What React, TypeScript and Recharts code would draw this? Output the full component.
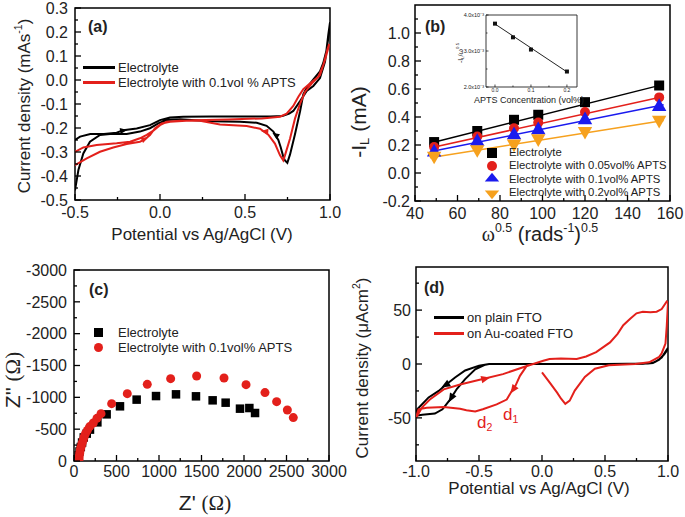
import React from "react";
import { ComposedChart, Line, Scatter, XAxis, YAxis, ReferenceArea } from "recharts";

const FONT = "'Liberation Sans', Arial, Helvetica, sans-serif";
const SERIF = "'Liberation Serif', 'Times New Roman', serif";
const RED = "#e3201b";
const BLUE = "#1a1aee";
const ORANGE = "#f6a11e";

// (a) cyclic voltammetry, potential (V) vs current density
const cvPlain: [number, number][] = [
  [-0.5, -0.25], [-0.47, -0.236], [-0.41, -0.225], [-0.33, -0.225], [-0.255, -0.22], [-0.216, -0.209],
  [-0.137, -0.202], [-0.059, -0.188], [0.0, -0.167], [0.059, -0.156], [0.137, -0.153], [0.3, -0.152],
  [0.5, -0.152], [0.65, -0.152], [0.72, -0.15], [0.76, -0.14], [0.784, -0.129], [0.824, -0.088],
  [0.863, -0.046], [0.902, -0.025], [0.941, 0.008], [0.971, 0.077], [0.99, 0.189], [1.0, 0.24],
  [0.995, 0.2], [0.98, 0.125], [0.96, 0.07], [0.941, 0.036], [0.9, 0.0], [0.863, -0.032], [0.843, -0.06],
  [0.824, -0.13], [0.794, -0.226], [0.765, -0.31], [0.749, -0.345], [0.735, -0.335], [0.725, -0.319],
  [0.71, -0.28], [0.696, -0.25], [0.667, -0.215], [0.627, -0.191], [0.569, -0.178], [0.471, -0.174],
  [0.3, -0.172], [0.118, -0.164], [0.039, -0.167], [-0.01, -0.181], [-0.059, -0.201], [-0.118, -0.215],
  [-0.196, -0.225], [-0.294, -0.225], [-0.353, -0.229], [-0.412, -0.257], [-0.451, -0.306],
  [-0.48, -0.375], [-0.5, -0.46],
];
const cvApts: [number, number][] = [
  [-0.5, -0.355], [-0.431, -0.327], [-0.353, -0.299], [-0.275, -0.281], [-0.196, -0.267], [-0.118, -0.257],
  [-0.088, -0.247], [-0.059, -0.229], [-0.029, -0.201], [0.01, -0.181], [0.059, -0.174], [0.2, -0.168],
  [0.4, -0.165], [0.6, -0.16], [0.706, -0.153], [0.745, -0.14], [0.784, -0.108], [0.814, -0.07],
  [0.843, -0.038], [0.882, -0.015], [0.931, 0.013], [0.961, 0.063], [0.984, 0.126], [0.995, 0.15],
  [0.99, 0.133], [0.971, 0.085], [0.941, 0.02], [0.892, -0.015], [0.853, -0.05], [0.824, -0.098],
  [0.794, -0.161], [0.765, -0.244], [0.735, -0.314], [0.725, -0.335], [0.706, -0.314], [0.676, -0.265],
  [0.637, -0.228], [0.588, -0.203], [0.51, -0.192], [0.353, -0.185], [0.235, -0.17], [0.118, -0.17],
  [0.039, -0.174], [0.0, -0.188], [-0.039, -0.211], [-0.078, -0.229], [-0.118, -0.243], [-0.176, -0.257],
  [-0.255, -0.264], [-0.373, -0.271], [-0.451, -0.281], [-0.5, -0.299],
];
// arrow heads: x, y, direction (deg)
const cvArrowsPlain: [number, number, number][] = [[-0.216, -0.211, -8], [0.68, -0.229, 215]];
const cvArrowsApts: [number, number, number][] = [[-0.09, -0.246, -25], [0.618, -0.214, 185]];

// (b) Levich plot
const omegaHalf = [49, 69.3, 86.6, 98, 120, 154.9];
const ilPlain = [0.221, 0.3, 0.38, 0.416, 0.506, 0.625];
const il005 = [0.185, 0.26, 0.32, 0.36, 0.435, 0.54];
const il01 = [0.157, 0.233, 0.28, 0.316, 0.387, 0.482];
const il02 = [0.114, 0.16, 0.2, 0.238, 0.29, 0.37];
const fitPlain: [number, number][] = [[47, 0.213], [157, 0.633]];
const fit005: [number, number][] = [[47, 0.178], [157, 0.547]];
const fit01: [number, number][] = [[47, 0.151], [157, 0.488]];
const fit02: [number, number][] = [[47, 0.109], [157, 0.375]];
// inset: slope vs APTS concentration
const insetConc = [0, 0.05, 0.1, 0.2];
const insetSlope = [3.76, 3.38, 3.04, 2.43];
const insetFit: [number, number][] = [[0, 3.75], [0.2, 2.42]];

// (c) Nyquist
const eisPlain: [number, number][] = [
  [50, -30], [55, -90], [65, -150], [80, -220], [95, -290], [115, -370], [150, -430], [188, -493],
  [275, -607], [384, -733], [541, -859], [737, -964], [965, -1020], [1200, -1047], [1435, -1016],
  [1631, -953], [1784, -916], [1953, -822], [2063, -832], [2130, -754],
];
const eisApts: [number, number][] = [
  [60, -30], [62, -80], [68, -130], [75, -180], [85, -230], [95, -280], [108, -330], [120, -380],
  [135, -430], [157, -482], [185, -540], [227, -597], [270, -670], [318, -744], [443, -901], [627, -1058],
  [862, -1204], [1137, -1293], [1443, -1335], [1765, -1303], [2024, -1199], [2247, -1074], [2384, -932],
  [2510, -801], [2580, -682],
];

// (d) CV on plain / Au-coated FTO
const cvFto: [number, number][] = [
  [1.0, 14], [0.97, 9], [0.93, 4], [0.88, 1], [0.8, 0], [0.4, 0], [0, 0], [-0.42, 0], [-0.45, -0.6],
  [-0.53, -5], [-0.61, -14], [-0.675, -23], [-0.73, -33], [-0.79, -42], [-0.85, -46], [-0.95, -47],
  [-1.0, -48], [-0.99, -42], [-0.9, -31], [-0.82, -25], [-0.77, -20], [-0.69, -12.5], [-0.61, -6],
  [-0.5, -1.5], [-0.42, 0], [0, 0], [0.5, 0], [0.85, 0.5], [0.9, 2], [0.95, 6], [1.0, 15],
];
const cvAu: [number, number][] = [
  [-0.07, 0], [-0.12, -1.6], [-0.175, -11], [-0.21, -20], [-0.24, -25], [-0.28, -33], [-0.36, -37.5],
  [-0.47, -42], [-0.53, -44], [-0.6, -43], [-0.65, -41.6], [-0.78, -40], [-0.915, -40.6], [-0.98, -42],
  [-1.0, -50], [-0.95, -40], [-0.89, -33], [-0.78, -23.5], [-0.65, -19], [-0.47, -14], [-0.31, -9.4],
  [-0.15, -3], [-0.07, 0], [0.01, 3], [0.06, 4.7], [0.15, 5], [0.275, 4.7], [0.35, 7], [0.43, 11],
  [0.54, 20], [0.6, 28], [0.645, 36], [0.7, 42], [0.75, 47], [0.8, 48.5], [0.86, 48], [0.91, 48.5],
  [0.95, 51], [0.99, 58], [1.0, 57], [0.99, 35], [0.98, 19], [0.95, 10], [0.93, 6.6], [0.85, 1.6],
  [0.74, 0], [0.53, -1.2], [0.42, -4.4], [0.34, -12], [0.26, -24.7], [0.22, -34], [0.185, -37],
  [0.15, -32], [0.12, -26.6], [0.06, -17], [0.0, -7.8],
];
const cvArrowsFto: [number, number, number][] = [[-0.765, -19.5, 150], [-0.72, -31.5, 120]];
const cvArrowsAu: [number, number, number][] = [[-0.45, -13.6, -14], [-0.228, -23.5, 125]];

// tick values
const aXTicks = [-0.5, -0.25, 0, 0.25, 0.5, 0.75, 1.0];
const aXMajor = [-0.5, 0, 0.5, 1.0];
const aYTicks = [-0.5, -0.45, -0.4, -0.35, -0.3, -0.25, -0.2, -0.15, -0.1, -0.05, 0, 0.05, 0.1, 0.15, 0.2, 0.25, 0.3];
const aYMajor = [-0.5, -0.4, -0.3, -0.2, -0.1, 0, 0.1, 0.2, 0.3];
const bXTicks = [40, 50, 60, 70, 80, 90, 100, 110, 120, 130, 140, 150, 160];
const bXMajor = [40, 60, 80, 100, 120, 140, 160];
const bYTicks = [-0.2, -0.1, 0, 0.1, 0.2, 0.3, 0.4, 0.5, 0.6, 0.7, 0.8, 0.9, 1.0, 1.1];
const bYMajor = [-0.2, 0, 0.2, 0.4, 0.6, 0.8, 1.0];
const insXTicks = [0, 0.05, 0.1, 0.15, 0.2];
const insXMajor = [0, 0.1, 0.2];
const insYTicks = [2, 2.5, 3, 3.5, 4];
const insYMajor = [2, 3, 4];
const cXTicks = [0, 250, 500, 750, 1000, 1250, 1500, 1750, 2000, 2250, 2500, 2750, 3000];
const cXMajor = [0, 500, 1000, 1500, 2000, 2500, 3000];
const cYTicks = [-3000, -2750, -2500, -2250, -2000, -1750, -1500, -1250, -1000, -750, -500, -250, 0];
const cYMajor = [-3000, -2500, -2000, -1500, -1000, -500, 0];
const dXTicks = [-1, -0.75, -0.5, -0.25, 0, 0.25, 0.5, 0.75, 1];
const dXMajor = [-1, -0.5, 0, 0.5, 1];
const dYTicks = [-75, -50, -25, 0, 25, 50, 75];
const dYMajor = [-50, 0, 50];

const pts = (pairs: [number, number][]) => pairs.map(([x, y]) => ({ x, y }));
const zip = (xs: number[], ys: number[]) => xs.map((x, i) => ({ x, y: ys[i] }));
const arrowPts = (a: [number, number, number][]) => a.map(([x, y, angle]) => ({ x, y, angle }));

const isMajor = (majors: number[], v: number) => majors.some((m) => Math.abs(m - v) < 1e-6);

type TickOpts = {
  majors: number[];
  fmt: (v: number) => string;
  size: number;
  gap: number;
  len?: number;
  minor?: number;
  sw?: number;
};

const bottomTick = (o: TickOpts) => (p: any) => {
  const v = p.payload.value;
  const major = isMajor(o.majors, v);
  return (
    <g>
      <line x1={p.x} x2={p.x} y1={p.y} y2={p.y - (major ? o.len ?? 6 : o.minor ?? 3)} stroke="#000" strokeWidth={o.sw ?? 1.3} />
      {major && (
        <text x={p.x} y={p.y + o.gap} textAnchor="middle" fontSize={o.size} fontFamily={FONT} fill="#222">
          {o.fmt(v)}
        </text>
      )}
    </g>
  );
};

const leftTick = (o: TickOpts) => (p: any) => {
  const v = p.payload.value;
  const major = isMajor(o.majors, v);
  return (
    <g>
      <line x1={p.x} x2={p.x + (major ? o.len ?? 6 : o.minor ?? 3)} y1={p.y} y2={p.y} stroke="#000" strokeWidth={o.sw ?? 1.3} />
      {major && (
        <text x={p.x - o.gap} y={p.y} dy="0.36em" textAnchor="end" fontSize={o.size} fontFamily={FONT} fill="#222">
          {o.fmt(v)}
        </text>
      )}
    </g>
  );
};

const axisCommon = {
  type: "number" as const,
  allowDataOverflow: true,
  interval: 0 as const,
  tickLine: false,
  axisLine: false,
  tickSize: 0,
  tickMargin: 0,
};

const arrowShape = (color: string, s: number) => (p: any) => (
  <path
    d={`M${s},0 L${-s * 0.8},${-s * 0.75} L${-s * 0.8},${s * 0.75} Z`}
    transform={`translate(${p.cx},${p.cy}) rotate(${p.payload.angle})`}
    fill={color}
  />
);
const squareShape = (color: string, s: number) => (p: any) => (
  <rect x={p.cx - s / 2} y={p.cy - s / 2} width={s} height={s} fill={color} />
);
const circleShape = (color: string, r: number) => (p: any) => <circle cx={p.cx} cy={p.cy} r={r} fill={color} />;
const triShape = (color: string, s: number, down = false) => (p: any) => {
  const k = down ? -1 : 1;
  return (
    <path
      d={`M${p.cx},${p.cy - k * s * 0.6} L${p.cx + s * 0.6},${p.cy + k * s * 0.45} L${p.cx - s * 0.6},${p.cy + k * s * 0.45} Z`}
      fill={color}
    />
  );
};

const Txt = ({ x, y, size, children, center = false, rotate = false, bold = false, color = "#222", family = FONT }: any) => (
  <div
    style={{
      position: "absolute",
      left: x,
      top: y,
      fontSize: size,
      fontFamily: family,
      fontWeight: bold ? 700 : 400,
      color,
      whiteSpace: "nowrap",
      lineHeight: 1,
      transform: `translate(${center || rotate ? "-50%" : "0"}, -50%)${rotate ? " rotate(-90deg)" : ""}`,
    }}
  >
    {children}
  </div>
);

const LegendLine = ({ x, y, w, color }: any) => (
  <div style={{ position: "absolute", left: x, top: y - 1.5, width: w, height: 3, background: color }} />
);

const Sup = ({ children }: any) => <sup style={{ fontSize: "0.62em", verticalAlign: "0.7em", lineHeight: 0 }}>{children}</sup>;
const Sub = ({ children }: any) => <sub style={{ fontSize: "0.62em", verticalAlign: "-0.3em", lineHeight: 0 }}>{children}</sub>;

const PanelA = () => (
  <div style={{ position: "absolute", left: 0, top: 0 }}>
    <ComposedChart width={342} height={258} margin={{ top: 8, right: 12, left: 0, bottom: 0 }}>
      <XAxis {...axisCommon} dataKey="x" domain={[-0.5, 1]} ticks={aXTicks} height={58}
        tick={bottomTick({ majors: aXMajor, fmt: (v) => v.toFixed(1), size: 16, gap: 18 })} />
      <YAxis {...axisCommon} dataKey="y" domain={[-0.5, 0.3]} ticks={aYTicks} width={75}
        tick={leftTick({ majors: aYMajor, fmt: (v) => v.toFixed(1), size: 16, gap: 7 })} />
      <ReferenceArea x1={-0.5} x2={1} y1={-0.5} y2={0.3} fill="none" stroke="#000" strokeWidth={1.5} />
      <Line data={pts(cvPlain)} dataKey="y" type="linear" stroke="#000" strokeWidth={2} dot={false} isAnimationActive={false} />
      <Line data={pts(cvApts)} dataKey="y" type="linear" stroke={RED} strokeWidth={2} dot={false} isAnimationActive={false} />
      <Scatter data={arrowPts(cvArrowsPlain)} dataKey="y" shape={arrowShape("#000", 4)} isAnimationActive={false} />
      <Scatter data={arrowPts(cvArrowsApts)} dataKey="y" shape={arrowShape(RED, 4)} isAnimationActive={false} />
    </ComposedChart>
  </div>
);

const PanelB = () => (
  <>
    <div style={{ position: "absolute", left: 342, top: 0 }}>
      <ComposedChart width={343} height={258} margin={{ top: 5, right: 15, left: 0, bottom: 0 }}>
        <XAxis {...axisCommon} dataKey="x" domain={[40, 160]} ticks={bXTicks} height={57}
          tick={bottomTick({ majors: bXMajor, fmt: (v) => String(v), size: 16, gap: 18 })} />
        <YAxis {...axisCommon} dataKey="y" domain={[-0.2, 1.2]} ticks={bYTicks} width={73}
          tick={leftTick({ majors: bYMajor, fmt: (v) => v.toFixed(1), size: 16, gap: 5 })} />
        <ReferenceArea x1={40} x2={160} y1={-0.2} y2={1.2} fill="none" stroke="#000" strokeWidth={1.5} />
        <Line data={pts(fitPlain)} dataKey="y" type="linear" stroke="#000" strokeWidth={1.5} dot={false} isAnimationActive={false} />
        <Line data={pts(fit005)} dataKey="y" type="linear" stroke={RED} strokeWidth={1.5} dot={false} isAnimationActive={false} />
        <Line data={pts(fit01)} dataKey="y" type="linear" stroke={BLUE} strokeWidth={1.5} dot={false} isAnimationActive={false} />
        <Line data={pts(fit02)} dataKey="y" type="linear" stroke={ORANGE} strokeWidth={1.5} dot={false} isAnimationActive={false} />
        <Scatter data={zip(omegaHalf, ilPlain)} dataKey="y" shape={squareShape("#000", 10)} isAnimationActive={false} />
        <Scatter data={zip(omegaHalf, il005)} dataKey="y" shape={circleShape(RED, 5)} isAnimationActive={false} />
        <Scatter data={zip(omegaHalf, il01)} dataKey="y" shape={triShape(BLUE, 12)} isAnimationActive={false} />
        <Scatter data={zip(omegaHalf, il02)} dataKey="y" shape={triShape(ORANGE, 12, true)} isAnimationActive={false} />
      </ComposedChart>
    </div>
    <div style={{ position: "absolute", left: 452, top: 11 }}>
      <ComposedChart width={128} height={90} margin={{ top: 4, right: 3, left: 0, bottom: 0 }}>
        <XAxis {...axisCommon} dataKey="x" domain={[-0.025, 0.228]} ticks={insXTicks} height={14}
          tick={bottomTick({ majors: insXMajor, fmt: (v) => v.toFixed(1), size: 5, gap: 5, len: 2.5, minor: 1.5, sw: 0.7 })} />
        <YAxis {...axisCommon} dataKey="y" domain={[2, 4]} ticks={insYTicks} width={34}
          tick={leftTick({ majors: insYMajor, fmt: (v) => `${v.toFixed(1)}x10⁻³`, size: 5.5, gap: 2, len: 2.5, minor: 1.5, sw: 0.7 })} />
        <ReferenceArea x1={-0.025} x2={0.228} y1={2} y2={4} fill="#fff" fillOpacity={1} stroke="#222" strokeWidth={0.9} />
        <Line data={pts(insetFit)} dataKey="y" type="linear" stroke="#222" strokeWidth={1} dot={false} isAnimationActive={false} />
        <Scatter data={zip(insetConc, insetSlope)} dataKey="y" shape={squareShape("#111", 4)} isAnimationActive={false} />
      </ComposedChart>
    </div>
  </>
);

const PanelC = () => (
  <div style={{ position: "absolute", left: 0, top: 258 }}>
    <ComposedChart width={355} height={259} margin={{ top: 12, right: 26, left: 0, bottom: 0 }}>
      <XAxis {...axisCommon} dataKey="x" domain={[0, 3000]} ticks={cXTicks} height={56}
        tick={bottomTick({ majors: cXMajor, fmt: (v) => String(v), size: 16, gap: 16 })} />
      <YAxis {...axisCommon} dataKey="y" domain={[-3000, 0]} reversed ticks={cYTicks} width={74}
        tick={leftTick({ majors: cYMajor, fmt: (v) => String(v), size: 16, gap: 7 })} />
      <ReferenceArea x1={0} x2={3000} y1={-3000} y2={0} fill="none" stroke="#000" strokeWidth={1.5} />
      <Scatter data={pts(eisPlain)} dataKey="y" shape={squareShape("#000", 8.5)} isAnimationActive={false} />
      <Scatter data={pts(eisApts)} dataKey="y" shape={circleShape(RED, 4.5)} isAnimationActive={false} />
    </ComposedChart>
  </div>
);

const PanelD = () => (
  <div style={{ position: "absolute", left: 342, top: 258 }}>
    <ComposedChart width={343} height={259} margin={{ top: 9, right: 17, left: 0, bottom: 0 }}>
      <XAxis {...axisCommon} dataKey="x" domain={[-1, 1]} ticks={dXTicks} height={56}
        tick={bottomTick({ majors: dXMajor, fmt: (v) => v.toFixed(1), size: 16, gap: 16 })} />
      <YAxis {...axisCommon} dataKey="y" domain={[-90, 90]} ticks={dYTicks} width={74}
        tick={leftTick({ majors: dYMajor, fmt: (v) => String(v), size: 16, gap: 5 })} />
      <ReferenceArea x1={-1} x2={1} y1={-90} y2={90} fill="none" stroke="#000" strokeWidth={1.5} />
      <Line data={pts(cvFto)} dataKey="y" type="linear" stroke="#000" strokeWidth={2} dot={false} isAnimationActive={false} />
      <Line data={pts(cvAu)} dataKey="y" type="linear" stroke={RED} strokeWidth={2} dot={false} isAnimationActive={false} />
      <Scatter data={arrowPts(cvArrowsFto)} dataKey="y" shape={arrowShape("#000", 5)} isAnimationActive={false} />
      <Scatter data={arrowPts(cvArrowsAu)} dataKey="y" shape={arrowShape(RED, 5)} isAnimationActive={false} />
    </ComposedChart>
  </div>
);

export default function App() {
  return (
    <div style={{ position: "absolute", left: 0, top: 0, width: 685, height: 517, background: "#fff", overflow: "hidden" }}>
      <PanelA />
      <PanelC />
      <PanelB />
      <PanelD />

      {/* (a) */}
      <Txt x={88} y={27} size={16} bold>(a)</Txt>
      <LegendLine x={83} y={67} w={32} color="#000" />
      <Txt x={118} y={67} size={13}>Electrolyte</Txt>
      <LegendLine x={83} y={82} w={32} color={RED} />
      <Txt x={118} y={82} size={13}>Electrolyte with 0.1vol % APTS</Txt>
      <Txt x={24} y={106} size={17} rotate>
        Current density (mAs<Sup>-1</Sup>)
      </Txt>
      <Txt x={202} y={234} size={17} center>Potential vs Ag/AgCl (V)</Txt>

      {/* (b) */}
      <Txt x={425} y={27} size={16} bold>(b)</Txt>
      <svg style={{ position: "absolute", left: 484, top: 146, overflow: "visible" }} width={16} height={56}>
        <rect x={3} y={2} width={10} height={10} fill="#000" />
        <circle cx={8} cy={20} r={5} fill={RED} />
        <path d="M8,26.8 L15.2,35.4 L0.8,35.4 Z" fill={BLUE} />
        <path d="M8,53.2 L15.2,44.6 L0.8,44.6 Z" fill={ORANGE} />
      </svg>
      <Txt x={509} y={153} size={11.3}>Electrolyte</Txt>
      <Txt x={509} y={166} size={11.3}>Electrolyte with 0.05vol% APTS</Txt>
      <Txt x={509} y={180} size={11.3}>Electrolyte with 0.1vol% APTS</Txt>
      <Txt x={509} y={193} size={11.3}>Electrolyte with 0.2vol% APTS</Txt>
      <Txt x={358} y={122} size={21} rotate>
        -I<Sub>L</Sub> (mA)
      </Txt>
      <Txt x={540} y={234} size={20} center>
        <span style={{ fontFamily: SERIF }}>ω</span>
        <Sup>0.5</Sup> (rads<Sup>-1</Sup>)<Sup>0.5</Sup>
      </Txt>
      <Txt x={460} y={53} size={7} rotate>
        -I<Sub>L</Sub>/ω<Sup>0.5</Sup>
      </Txt>
      <Txt x={529} y={99.5} size={9} center>APTS Concentration (vol%)</Txt>

      {/* (c) */}
      <Txt x={89} y={290} size={16} bold>(c)</Txt>
      <div style={{ position: "absolute", left: 94, top: 328, width: 9, height: 9, background: "#000" }} />
      <Txt x={118} y={332} size={13}>Electrolyte</Txt>
      <div style={{ position: "absolute", left: 93.5, top: 342.5, width: 9, height: 9, borderRadius: "50%", background: RED }} />
      <Txt x={118} y={347} size={13}>Electrolyte with 0.1vol% APTS</Txt>
      <Txt x={13} y={380} size={21} rotate>
        Z'' <span style={{ fontFamily: SERIF }}>(Ω)</span>
      </Txt>
      <Txt x={205} y={503} size={21} center>
        Z' <span style={{ fontFamily: SERIF }}>(Ω)</span>
      </Txt>

      {/* (d) */}
      <Txt x={424} y={288} size={16} bold>(d)</Txt>
      <LegendLine x={434} y={317} w={30} color="#000" />
      <Txt x={467} y={317} size={13}>on plain FTO</Txt>
      <LegendLine x={434} y={333} w={30} color={RED} />
      <Txt x={467} y={333} size={13}>on Au-coated FTO</Txt>
      <Txt x={477} y={422} size={17} color={RED}>
        d<Sub>2</Sub>
      </Txt>
      <Txt x={503} y={414} size={17} color={RED}>
        d<Sub>1</Sub>
      </Txt>
      <Txt x={362} y={368} size={17} rotate>
        Current density (μAcm<Sup>2</Sup>)
      </Txt>
      <Txt x={539} y={488} size={17} center>Potential vs Ag/AgCl (V)</Txt>
    </div>
  );
}
